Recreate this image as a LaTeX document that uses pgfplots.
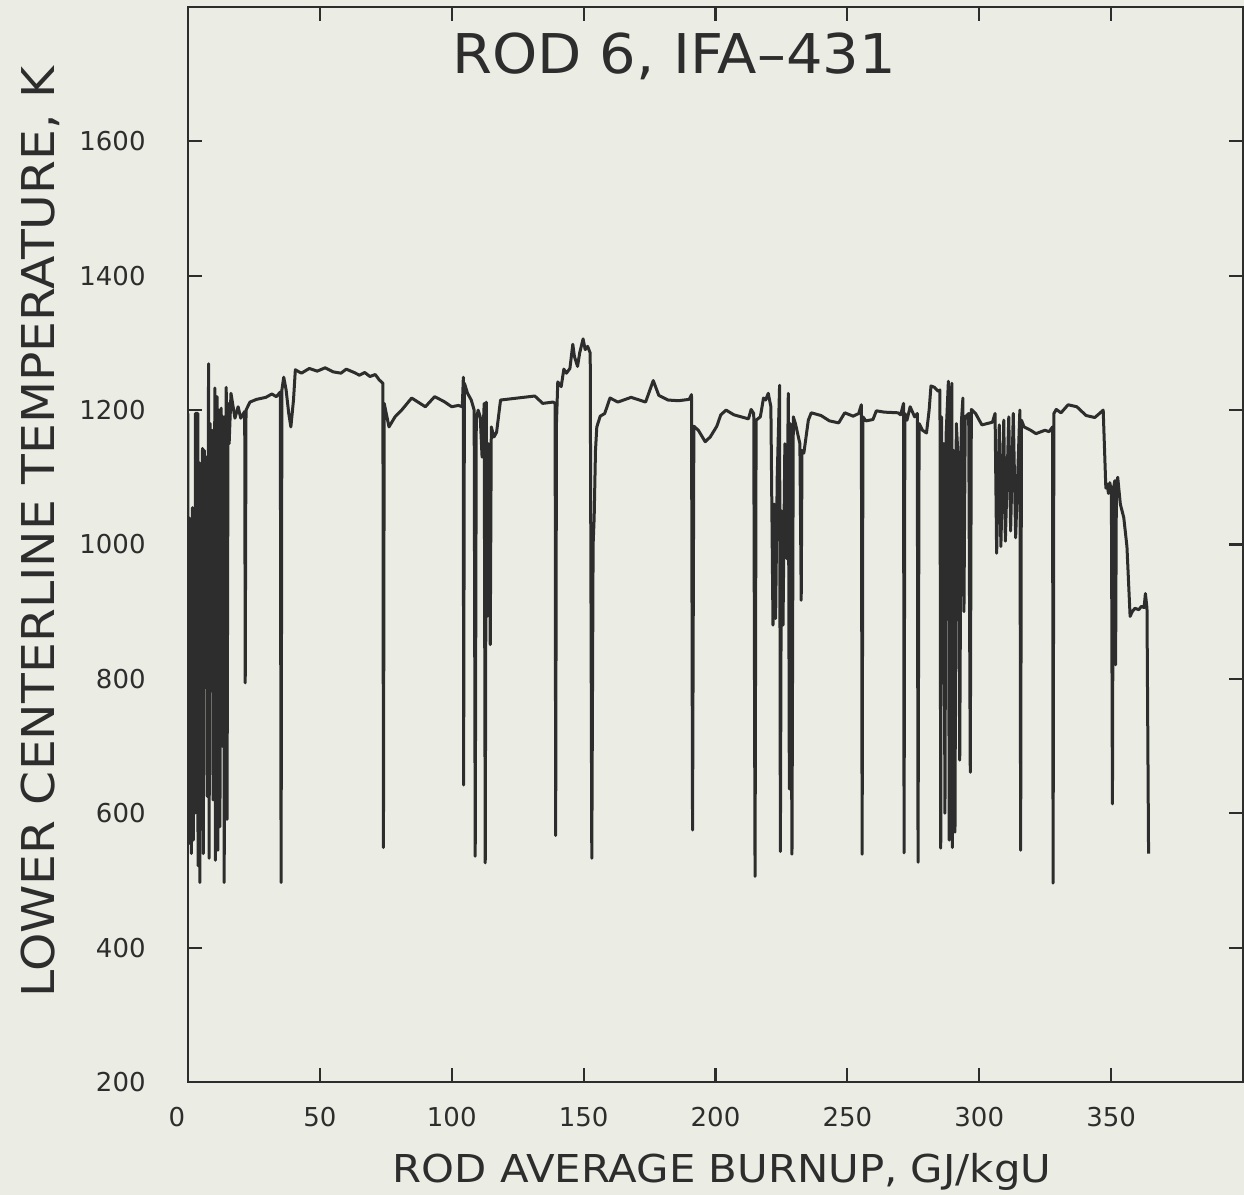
\documentclass[border=0pt]{standalone}
\usepackage{fontspec}
\setmainfont{DejaVu Sans}
\usepackage{graphicx}
\usepackage{pgfplots}
\usepackage{pgfplotstable}
\pgfplotsset{compat=1.18}
\definecolor{paper}{RGB}{235,237,228}
\definecolor{ink}{RGB}{45,45,45}

% burnup (GJ/kgU) vs lower centerline temperature (K)
\pgfplotstableread{
x y
0 1195
0 560
0.4 1040
0.7 555
1.0 1000
1.3 540
1.7 1055
2.0 560
2.3 1000
2.6 600
2.8 1195
3.7 1195
3.8 522
4.2 1122
4.5 497
4.8 1100
5.2 600
5.5 1143
5.8 540
6.2 1140
6.6 900
7.0 1130
7.3 625
7.8 1269
8.0 533
8.4 1180
8.8 860
9.2 1170
9.5 620
10.2 1233
10.4 530
11.0 1220
11.3 545
11.7 1200
12.1 580
12.6 1203
13.0 700
13.6 1190
13.7 497
14.5 1234
14.8 591
15.2 1210
15.6 1150
16.3 1225
17.8 1188
19.0 1205
20.0 1188
21.5 1198
21.7 794
22.0 1200
23.5 1212
26.0 1216
29.5 1219
31.8 1224
33.5 1220
35.0 1227
35.3 497
35.6 1230
36.3 1249
37.2 1230
38.2 1195
39.0 1175
40.0 1215
40.7 1260
43 1255
46 1262
49 1258
52 1263
55 1257
58 1255
60 1261
63 1256
65 1252
67 1256
69 1250
71 1253
72.5 1245
73.9 1240
74.1 549
74.4 1210
76.2 1175
78.5 1190
81 1200
84.8 1218
88 1210
90 1205
93.5 1220
97 1213
100 1205
102.5 1207
104.0 1205
104.4 1249
104.5 642
104.8 1240
106 1225
107.4 1215
108.5 1200
108.9 536
109.3 1185
110.0 1200
110.8 1190
111.5 1130
112.3 1210
112.7 526
113.1 1212
113.5 893
114.0 1150
114.6 851
115.0 1175
116.0 1160
117.0 1167
118.5 1215
125 1218
131.5 1221
134.5 1210
138.4 1212
139.2 1210
139.4 567
139.7 1180
140.2 1242
141.5 1235
142.5 1261
143.5 1255
144.8 1262
145.9 1298
146.5 1280
147.7 1265
148.5 1285
149.8 1306
150.6 1290
151.5 1295
152.5 1285
153.1 533
153.6 1000
154.0 1040
154.5 1140
155.0 1175
156.3 1191
158.0 1195
160 1218
163 1212
168 1219
171.2 1215
173.5 1212
176.4 1244
178.5 1222
182 1215
186 1214
190.0 1216
190.9 1223
191.3 575
191.8 1176
193.5 1170
196.1 1153
198 1160
200.5 1176
202 1193
204 1200
207 1193
212.5 1187
213.5 1201
214.5 1195
215.0 506
215.4 1185
217 1190
218.2 1218
219.0 1215
220.0 1225
221.0 1205
221.8 880
222.3 1060
222.8 890
223.4 1100
224.3 1237
224.6 543
225.0 1050
225.6 880
226.3 1150
227.0 979
227.6 1225
228.0 636
228.3 1180
229.0 539
229.5 1190
230.3 1180
232.0 1150
232.5 917
232.8 1140
233.5 1136
235.2 1185
236.3 1196
240 1192
243.2 1184
246.7 1181
249.0 1196
252.2 1191
254.3 1195
255.3 1208
255.6 539
255.9 1190
257.0 1184
259.7 1186
261.0 1199
264 1197
269.2 1196
270.2 1193
271.3 1210
271.5 541
271.8 1195
272.6 1185
273.8 1205
275.5 1190
276.5 1195
276.8 527
277.2 1180
278.5 1170
280.0 1166
281.0 1200
281.7 1236
283.0 1234
284.5 1228
285.1 1230
285.4 548
285.7 1190
286.0 815
286.5 1150
287.0 600
287.4 1160
288.3 1243
288.6 560
289.0 1150
289.6 1240
289.8 549
290.3 1140
290.8 572
291.3 1180
292.0 1128
292.6 679
293.2 1180
293.8 1218
294.2 900
294.7 1190
296.0 1195
296.6 661
297.0 1201
298.6 1195
301.0 1178
305 1182
306.0 1195
306.6 987
307.6 1178
308.2 997
309.3 1185
309.9 1005
311.2 1190
311.9 1020
312.9 1195
313.8 1010
315.4 1200
315.7 545
316.0 1185
317.0 1175
319.5 1170
321.5 1165
324.9 1170
326.5 1168
327.8 1175
328.0 496
328.3 1195
329.2 1201
331 1196
333.7 1208
337 1205
340.5 1192
343.8 1189
345.6 1195
347.0 1200
348.0 1084
348.5 1090
349.0 1076
349.5 1092
350.1 1080
350.5 614
350.8 1082
351.4 1095
351.7 821
352.0 1090
352.5 1100
353.5 1060
354.8 1040
356.0 997
357.2 893
358.0 900
359.0 905
360.5 903
361.5 908
362.5 906
363.0 927
363.6 905
364.2 540
}\rodsix

\begin{document}
\begin{tikzpicture}
\fill[paper] (-94pt,-56.5pt) rectangle (528pt,541pt);
\begin{axis}[
    at={(0,0)}, anchor=south west,
    scale only axis,
    width=527.5pt, height=537.5pt,
    xmin=0, xmax=400, ymin=200, ymax=1800,
    xtick={50,100,...,350},
    extra x ticks={0},
    extra x tick style={xticklabel style={xshift=-5.5pt}},
    ytick={200,400,...,1600},
    tick align=inside,
    major tick length=7pt,
    axis line style={draw=ink, line width=1.1pt},
    tick style={draw=ink, line width=1.1pt},
    tick label style={font=\fontsize{13}{15}\selectfont, text=ink},
    /pgf/number format/assume math mode=true,
    /pgf/number format/1000 sep={},
    yticklabel style={anchor=east, inner sep=0pt, xshift=-21pt},
    xticklabel style={anchor=north, inner sep=0pt, yshift=-12.5pt},
]
\addplot[ink, line width=1.5pt, line join=round, mark=none] table[x=x, y=y] {\rodsix};
\end{axis}
\node[anchor=base, text=ink] at (243pt,504pt)
  {\fontsize{27.4}{30}\selectfont\scalebox{1.05}[1]{ROD 6, IFA--431}};
\node[anchor=base, text=ink] at (267pt,-50.5pt)
  {\fontsize{19.2}{22}\selectfont\scalebox{1.09}[1]{ROD AVERAGE BURNUP, GJ/kgU}};
\node[rotate=90, anchor=base, text=ink] at (-66.5pt,275pt)
  {\fontsize{22.6}{25}\selectfont\scalebox{1.08}[1]{LOWER CENTERLINE TEMPERATURE, K}};
\pgfresetboundingbox
\useasboundingbox (-94pt,-56.5pt) rectangle (528pt,541pt);
\end{tikzpicture}
\end{document}
